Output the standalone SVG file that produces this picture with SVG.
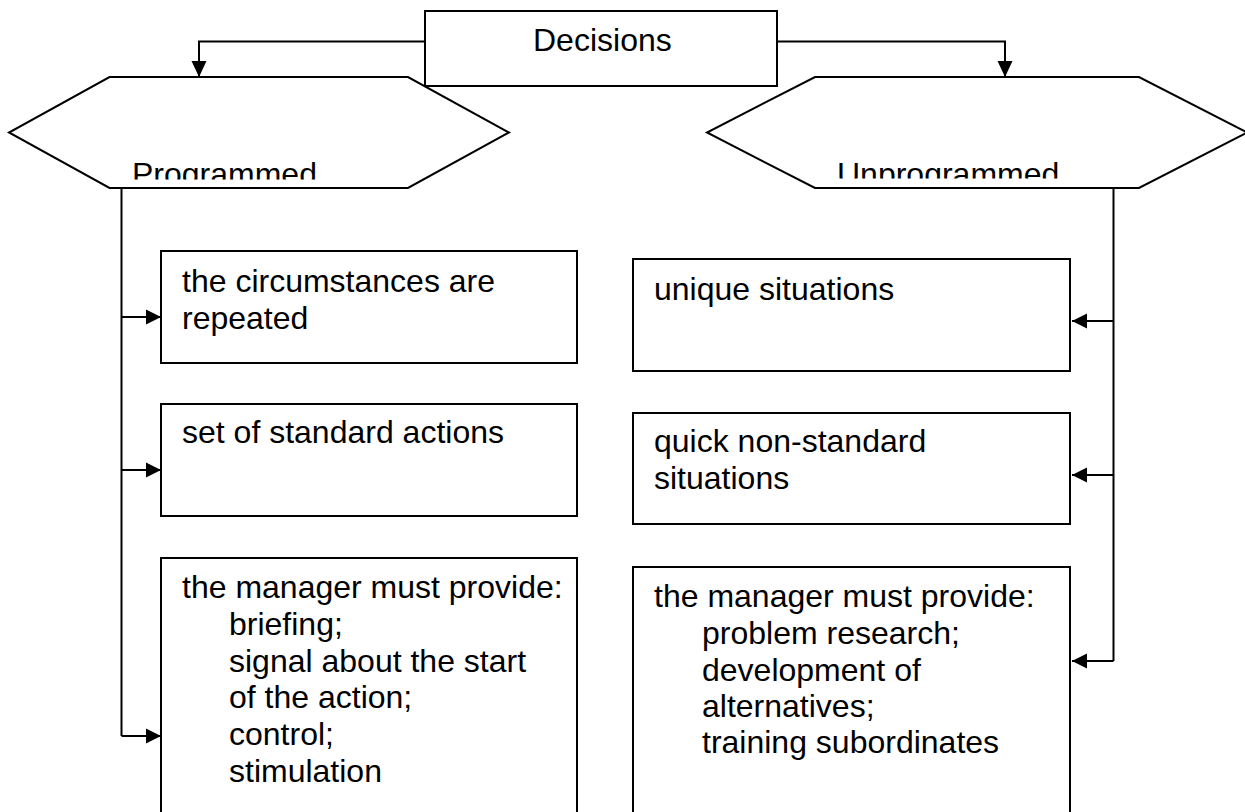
<svg xmlns="http://www.w3.org/2000/svg" width="1245" height="812" viewBox="0 0 1245 812">
<style>
.shape{fill:#fff;stroke:#000;stroke-width:2}
.conn{fill:none;stroke:#000;stroke-width:2}
.t{font-family:"Liberation Sans",Arial,sans-serif;font-size:32px;fill:#000}
</style>
<defs>
<marker id="ah" markerUnits="userSpaceOnUse" markerWidth="16" markerHeight="16" refX="15" refY="8" orient="auto">
<path d="M0,0.5 L15,8 L0,15.5 Z" fill="#000"/>
</marker>
<marker id="ahTop" markerUnits="userSpaceOnUse" markerWidth="17" markerHeight="16" refX="16" refY="8" orient="auto">
<path d="M0,0.5 L16,8 L0,15.5 Z" fill="#000"/>
</marker>
<clipPath id="clipL"><rect x="0" y="0" width="620" height="179.5"/></clipPath>
<clipPath id="clipR"><rect x="620" y="0" width="625" height="178.5"/></clipPath>
</defs>
<g id="connectors">
<path class="conn" d="M425,41.5 H199 V77" marker-end="url(#ahTop)"/>
<path class="conn" d="M777,41.5 H1005 V77" marker-end="url(#ahTop)"/>
<path class="conn" d="M121.5,188 V736"/>
<path class="conn" d="M121.5,317 H161" marker-end="url(#ah)"/>
<path class="conn" d="M121.5,470 H161" marker-end="url(#ah)"/>
<path class="conn" d="M121.5,736 H161" marker-end="url(#ah)"/>
<path class="conn" d="M1113.5,188 V661"/>
<path class="conn" d="M1113.5,321 H1072" marker-end="url(#ah)"/>
<path class="conn" d="M1113.5,475 H1072" marker-end="url(#ah)"/>
<path class="conn" d="M1113.5,661 H1072" marker-end="url(#ah)"/>
</g>
<g id="decisions">
<rect class="shape" x="425" y="11" width="352" height="75"/>
<text class="t" x="533" y="51">Decisions</text>
</g>
<g id="programmed">
<polygon class="shape" points="109.5,77 408,77 509,132.5 408,188 109.5,188 9,132.5"/>
<text class="t" x="132" y="185" clip-path="url(#clipL)">Programmed</text>
</g>
<g id="unprogrammed">
<polygon class="shape" points="815,77 1139,77 1247,132.5 1139,188 815,188 707,132.5"/>
<text class="t" x="837" y="185" clip-path="url(#clipR)">Unprogrammed</text>
</g>
<g id="p1">
<rect class="shape" x="161" y="251" width="416" height="112"/>
<text class="t" x="182" y="292">the circumstances are</text>
<text class="t" x="182" y="328.5">repeated</text>
</g>
<g id="p2">
<rect class="shape" x="161" y="404" width="416" height="112"/>
<text class="t" x="182" y="443">set of standard actions</text>
</g>
<g id="p3">
<rect class="shape" x="161" y="558" width="416" height="280"/>
<text class="t" x="182" y="598">the manager must provide:</text>
<text class="t" x="229" y="635">briefing;</text>
<text class="t" x="229" y="672">signal about the start</text>
<text class="t" x="229" y="708">of the action;</text>
<text class="t" x="229" y="745">control;</text>
<text class="t" x="229" y="782">stimulation</text>
</g>
<g id="u1">
<rect class="shape" x="633" y="259" width="437" height="112"/>
<text class="t" x="654" y="300">unique situations</text>
</g>
<g id="u2">
<rect class="shape" x="633" y="413" width="437" height="111"/>
<text class="t" x="654" y="452">quick non-standard</text>
<text class="t" x="654" y="489">situations</text>
</g>
<g id="u3">
<rect class="shape" x="633" y="567" width="437" height="270"/>
<text class="t" x="654" y="607">the manager must provide:</text>
<text class="t" x="702" y="644">problem research;</text>
<text class="t" x="702" y="681">development of</text>
<text class="t" x="702" y="717">alternatives;</text>
<text class="t" x="702" y="753">training subordinates</text>
</g>
</svg>
